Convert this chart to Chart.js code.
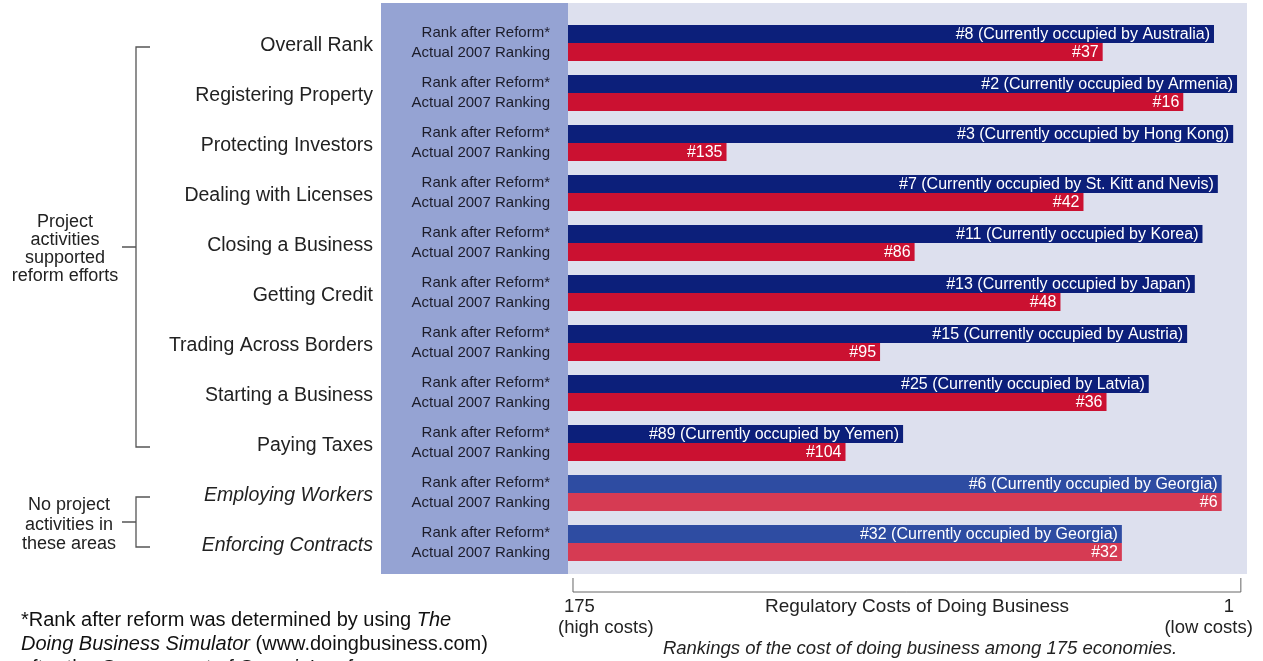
<!DOCTYPE html>
<html lang="en">
<head>
  <meta charset="UTF-8">
  <title>Regulatory Costs of Doing Business - Georgia</title>
  <script src="https://cdn.jsdelivr.net/npm/chart.js"></script>
  <style>
    body { margin: 0; background: #ffffff; }
    #wrap { width: 1263px; height: 661px; overflow: hidden; }
  </style>
</head>
<body>
  <div id="wrap"><canvas id="rankChart" width="1263" height="661"></canvas></div>
  <script>
    // data
    const categories = ['Overall Rank', 'Registering Property', 'Protecting Investors', 'Dealing with Licenses',
      'Closing a Business', 'Getting Credit', 'Trading Across Borders', 'Starting a Business',
      'Paying Taxes', 'Employing Workers', 'Enforcing Contracts'];
    const rankAfterReform = [8, 2, 3, 7, 11, 13, 15, 25, 89, 6, 32];
    const actual2007 = [37, 16, 135, 42, 86, 48, 95, 36, 104, 6, 32];
    const occupiedBy = ['Australia', 'Armenia', 'Hong Kong', 'St. Kitt and Nevis', 'Korea', 'Japan',
      'Austria', 'Latvia', 'Yemen', 'Georgia', 'Georgia'];
    const noActivity = [false, false, false, false, false, false, false, false, false, true, true];
    const axisTicks = [175, 1];

    const FONT = '"Liberation Sans", Arial, sans-serif';
    const AXIS_MAX = 176.3;   // left edge of the plot (bars grow from here)
    const AXIS_MIN = -0.6;

    const NAVY = '#0c1f7a', RED = '#cb1131';
    const NAVY_LIGHT = '#2e4ca2', RED_LIGHT = '#d63b53';

    // floating bars from the left edge of the reversed axis to the rank
    const reformBars = rankAfterReform.map(r => [AXIS_MAX, r]);
    const actualBars = actual2007.map(r => [AXIS_MAX, r]);

    function text(ctx, str, x, y, size, opts) {
      opts = opts || {};
      ctx.font = (opts.italic ? 'italic ' : '') + size + 'px ' + FONT;
      ctx.fillStyle = opts.color || '#222';
      ctx.textAlign = opts.align || 'left';
      ctx.textBaseline = opts.baseline || 'alphabetic';
      ctx.fillText(str, x, y);
    }

    // mixed upright / italic line
    function richLine(ctx, parts, x, y, size) {
      ctx.textAlign = 'left';
      ctx.textBaseline = 'alphabetic';
      ctx.fillStyle = '#111';
      parts.forEach(p => {
        ctx.font = (p.i ? 'italic ' : '') + size + 'px ' + FONT;
        ctx.fillText(p.t, x, y);
        x += ctx.measureText(p.t).width;
      });
    }

    const decorations = {
      id: 'decorations',
      beforeDraw(chart) {
        const ctx = chart.ctx;
        const area = chart.chartArea;
        ctx.save();
        ctx.fillStyle = '#ffffff';
        ctx.fillRect(0, 0, chart.width, chart.height);
        // label panel and plot panel
        ctx.fillStyle = '#95a3d3';
        ctx.fillRect(381, area.top - 15, area.left - 381, area.bottom - area.top + 21);
        ctx.fillStyle = '#dde0ee';
        ctx.fillRect(area.left, area.top - 15, area.right - area.left, area.bottom - area.top + 21);
        ctx.restore();
      },
      afterDatasetsDraw(chart) {
        const ctx = chart.ctx;
        const y = chart.scales.y;
        const x = chart.scales.x;
        ctx.save();

        // white labels inside the bars, at the rank end
        const m0 = chart.getDatasetMeta(0).data;
        const m1 = chart.getDatasetMeta(1).data;
        categories.forEach((c, i) => {
          const e0 = Math.max(m0[i].x, m0[i].base);
          const e1 = Math.max(m1[i].x, m1[i].base);
          text(ctx, '#' + rankAfterReform[i] + ' (Currently occupied by ' + occupiedBy[i] + ')',
            e0 - 4, m0[i].y + 1, 16, { color: '#ffffff', align: 'right', baseline: 'middle' });
          text(ctx, '#' + actual2007[i], e1 - 4, m1[i].y + 1, 16,
            { color: '#ffffff', align: 'right', baseline: 'middle' });
        });

        // panel row labels
        categories.forEach((c, i) => {
          const cy = y.getPixelForValue(i);
          text(ctx, 'Rank after Reform*', 550, cy - 6, 15, { align: 'right', color: '#1c1c2a' });
          text(ctx, 'Actual 2007 Ranking', 550, cy + 13.5, 15, { align: 'right', color: '#1c1c2a' });
        });

        // brackets on the left
        ctx.strokeStyle = '#555';
        ctx.lineWidth = 1.3;
        function bracket(i0, i1) {
          const t = y.getPixelForValue(i0) + 4;
          const b = y.getPixelForValue(i1) + 4;
          const mid = (t + b) / 2;
          ctx.beginPath();
          ctx.moveTo(150, t); ctx.lineTo(136, t); ctx.lineTo(136, b); ctx.lineTo(150, b);
          ctx.moveTo(136, mid); ctx.lineTo(122, mid);
          ctx.stroke();
          return mid;
        }
        const midA = bracket(0, 8);
        ['Project', 'activities', 'supported', 'reform efforts'].forEach((s, k) => {
          text(ctx, s, 65, midA - 20 + k * 18, 18, { align: 'center' });
        });
        const midB = bracket(9, 10);
        ['No project', 'activities in', 'these areas'].forEach((s, k) => {
          text(ctx, s, 69, midB - 12 + k * 19.5, 18, { align: 'center' });
        });

        // bottom axis
        const xl = x.getPixelForValue(axisTicks[0]);
        const xr = x.getPixelForValue(axisTicks[1]);
        const ay = 592;
        ctx.strokeStyle = '#666';
        ctx.lineWidth = 1;
        ctx.beginPath();
        ctx.moveTo(xl, ay - 14); ctx.lineTo(xl, ay); ctx.lineTo(xr, ay); ctx.lineTo(xr, ay - 14);
        ctx.stroke();
        text(ctx, String(axisTicks[0]), xl - 9, 612, 18.5);
        text(ctx, '(high costs)', xl - 15, 633, 18.5);
        text(ctx, String(axisTicks[1]), xr - 12, 612, 18.5, { align: 'center' });
        text(ctx, '(low costs)', xr + 12, 633, 18.5, { align: 'right' });
        text(ctx, 'Regulatory Costs of Doing Business', 917, 612, 19, { align: 'center' });
        text(ctx, 'Rankings of the cost of doing business among 175 economies.', 920, 654, 18.5,
          { align: 'center', italic: true });

        // footnote
        richLine(ctx, [{ t: '*Rank after reform was determined by using ' }, { t: 'The', i: true }], 21, 626, 20);
        richLine(ctx, [{ t: 'Doing Business Simulator', i: true }, { t: ' (www.doingbusiness.com)' }], 21, 650, 20);
        richLine(ctx, [{ t: 'after the ' }, { t: "Government of Georgia's reforms", i: true }], 21, 674, 20);

        ctx.restore();
      }
    };

    const ctx = document.getElementById('rankChart').getContext('2d');
    const rankChart = new Chart(ctx, {
      type: 'bar',
      data: {
        labels: categories,
        datasets: [{
          label: 'Rank after Reform*',
          data: reformBars,
          backgroundColor: noActivity.map(n => n ? NAVY_LIGHT : NAVY),
          borderWidth: 0
        }, {
          label: 'Actual 2007 Ranking',
          data: actualBars,
          backgroundColor: noActivity.map(n => n ? RED_LIGHT : RED),
          borderWidth: 0
        }]
      },
      options: {
        indexAxis: 'y',
        responsive: false,
        animation: false,
        events: [],
        layout: { padding: { left: 0, right: 16, top: 18, bottom: 93 } },
        datasets: { bar: { categoryPercentage: 0.72, barPercentage: 1.0 } },
        plugins: { legend: { display: false }, tooltip: { enabled: false } },
        scales: {
          x: {
            type: 'linear',
            reverse: true,
            min: AXIS_MIN,
            max: AXIS_MAX,
            display: false
          },
          y: {
            grid: { display: false, drawTicks: false },
            border: { display: false },
            afterFit(scale) {
              scale.width = 568;
              scale.paddingTop = 0;
              scale.paddingBottom = 0;
            },
            ticks: {
              padding: 195,
              labelOffset: 3,
              color: '#222',
              font: c => ({ family: FONT, size: 19.5, style: noActivity[c.index] ? 'italic' : 'normal' })
            }
          }
        }
      },
      plugins: [decorations]
    });
  </script>
</body>
</html>
